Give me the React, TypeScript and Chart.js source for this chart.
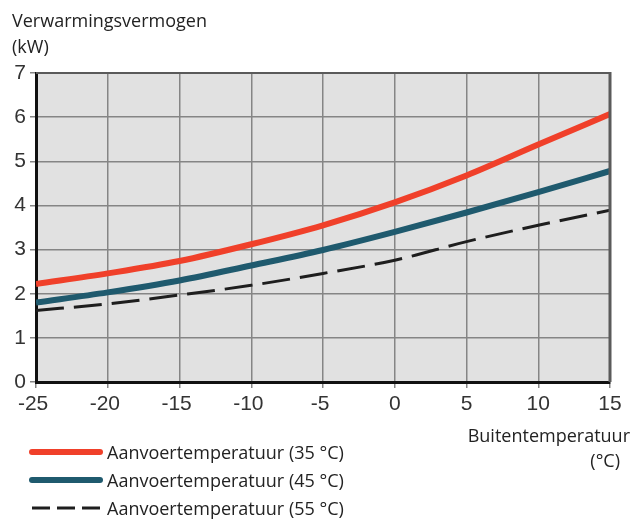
import React, { useEffect, useRef } from "react";
import { Chart, registerables } from "chart.js";

Chart.register(...registerables);

const temps = [-25, -20, -15, -10, -5, 0, 5, 10, 15];
const power35 = [2.22, 2.46, 2.74, 3.12, 3.55, 4.07, 4.68, 5.38, 6.07];
const power45 = [1.8, 2.03, 2.3, 2.64, 2.99, 3.4, 3.84, 4.3, 4.78];
const power55 = [1.62, 1.77, 1.97, 2.19, 2.46, 2.76, 3.18, 3.55, 3.89];
const seriesLabels = [
  "Aanvoertemperatuur (35 °C)",
  "Aanvoertemperatuur (45 °C)",
  "Aanvoertemperatuur (55 °C)",
];
const yTitle = ["Verwarmingsvermogen", "(kW)"];
const xTitle = ["Buitentemperatuur", "(°C)"];

const RED = "#f0402a";
const BLUE = "#1f5a6e";
const BLACK = "#1e1e1e";
const TEXT_FONT = "'Open Sans', sans-serif";

const bgPlugin = {
  id: "bgPlugin",
  beforeDraw(chart: any) {
    const { ctx, chartArea: a } = chart;
    ctx.save();
    ctx.fillStyle = "#e1e1e1";
    ctx.fillRect(a.left, a.top, a.right - a.left, a.bottom - a.top);
    ctx.restore();
  },
  afterDraw(chart: any) {
    const { ctx, chartArea: a } = chart;
    ctx.save();
    ctx.strokeStyle = "#5a5a5a";
    ctx.lineWidth = 2;
    ctx.beginPath();
    ctx.moveTo(a.left, a.top);
    ctx.lineTo(a.right, a.top);
    ctx.stroke();
    ctx.lineWidth = 3;
    ctx.beginPath();
    ctx.moveTo(a.right, a.top - 1);
    ctx.lineTo(a.right, a.bottom);
    ctx.stroke();
    ctx.restore();
  },
};

function toPoints(vals: number[]) {
  return temps.map((t, i) => ({ x: t, y: vals[i] }));
}

export default function App() {
  const ref = useRef<HTMLCanvasElement>(null);
  useEffect(() => {
    if (!ref.current) return;
    const chart = new Chart(ref.current, {
      type: "line",
      data: {
        datasets: [
          {
            label: seriesLabels[0],
            data: toPoints(power35),
            borderColor: RED,
            borderWidth: 6,
            pointRadius: 0,
            cubicInterpolationMode: "monotone",
          },
          {
            label: seriesLabels[1],
            data: toPoints(power45),
            borderColor: BLUE,
            borderWidth: 6,
            pointRadius: 0,
            cubicInterpolationMode: "monotone",
          },
          {
            label: seriesLabels[2],
            data: toPoints(power55),
            borderColor: BLACK,
            borderWidth: 3,
            borderDash: [28, 10],
            pointRadius: 0,
            cubicInterpolationMode: "monotone",
          },
        ],
      },
      options: {
        animation: false,
        responsive: false,
        layout: { padding: { left: 0, top: 73, right: 31, bottom: 0 } },
        plugins: { legend: { display: false }, tooltip: { enabled: false } },
        scales: {
          x: {
            type: "linear",
            min: -25,
            max: 15,
            afterFit(scale: any) {
              scale.height = 137;
            },
            ticks: {
              stepSize: 5,
              padding: 4,
              color: "#333",
              font: { family: "'Liberation Sans', Arial, sans-serif", size: 21 },
              callback: (v: any) => (Number(v) < 0 ? String(v) + "\u2008" : String(v)),
            },
            grid: { color: "#858585", lineWidth: 1.5, tickLength: 6 },
            border: { color: "#111", width: 3 },
          },
          y: {
            min: 0,
            max: 7,
            afterFit(scale: any) {
              scale.width = 36;
            },
            ticks: {
              stepSize: 1,
              padding: 4,
              color: "#333",
              font: { family: "'Liberation Sans', Arial, sans-serif", size: 21 },
            },
            grid: { color: "#858585", lineWidth: 1.5, tickLength: 6 },
            border: { color: "#111", width: 3 },
          },
        },
      },
      plugins: [bgPlugin],
    });
    return () => chart.destroy();
  }, []);

  const txt: React.CSSProperties = {
    position: "absolute",
    fontFamily: TEXT_FONT,
    fontSize: 18,
    color: "#222",
    whiteSpace: "nowrap",
    lineHeight: "20px",
  };
  const legendRows = [
    { label: seriesLabels[0], color: RED, dash: false, y: 452 },
    { label: seriesLabels[1], color: BLUE, dash: false, y: 480 },
    { label: seriesLabels[2], color: BLACK, dash: true, y: 508 },
  ];

  return (
    <div style={{ position: "fixed", left: 0, top: 0, width: 641, height: 519, background: "#fff" }}>
      <canvas ref={ref} width={641} height={519} style={{ position: "absolute", left: 0, top: 0 }} />
      <div style={{ ...txt, left: 12, top: 10 }}>{yTitle[0]}</div>
      <div style={{ ...txt, left: 12, top: 36 }}>{yTitle[1]}</div>
      <div style={{ ...txt, right: 11, top: 425, textAlign: "right" }}>{xTitle[0]}</div>
      <div style={{ ...txt, right: 21, top: 450, textAlign: "right" }}>{xTitle[1]}</div>
      {legendRows.map((r, i) => (
        <React.Fragment key={i}>
          <svg style={{ position: "absolute", left: 29, top: r.y - 5, width: 74, height: 10 }}>
            <line
              x1={3}
              y1={5}
              x2={71}
              y2={5}
              stroke={r.color}
              strokeWidth={r.dash ? 3 : 6}
              strokeLinecap={r.dash ? "butt" : "round"}
              strokeDasharray={r.dash ? "18 7" : undefined}
            />
          </svg>
          <div style={{ ...txt, left: 107, top: r.y - 10 }}>{r.label}</div>
        </React.Fragment>
      ))}
    </div>
  );
}
